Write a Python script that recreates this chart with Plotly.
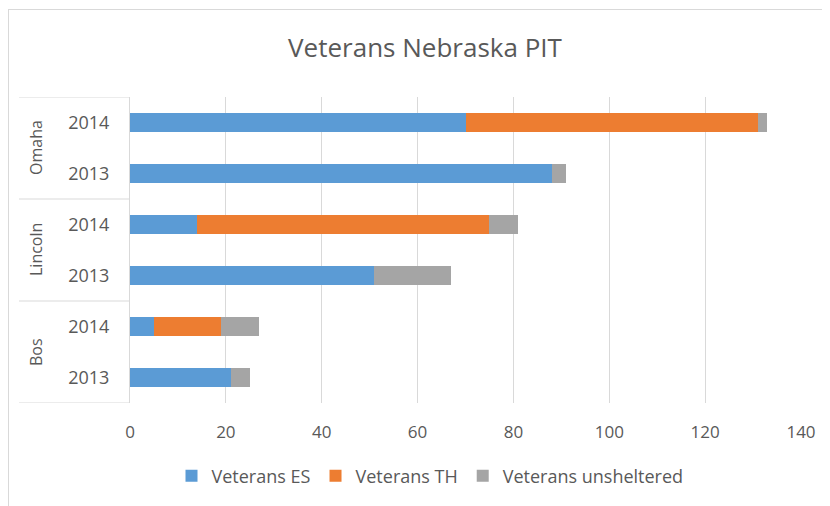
import plotly.graph_objects as go

# Data (bottom to top order for the category axis)
groups = ["Bos", "Bos", "Lincoln", "Lincoln", "Omaha", "Omaha"]
years = ["2013", "2014", "2013", "2014", "2013", "2014"]
veterans_es = [21, 5, 51, 14, 88, 70]
veterans_th = [0, 14, 0, 61, 0, 61]
veterans_unsheltered = [4, 8, 16, 6, 3, 2]
group_names = ["Bos", "Lincoln", "Omaha"]
x_ticks = [0, 20, 40, 60, 80, 100, 120, 140]

cats = [f"{g} {y}" for g, y in zip(groups, years)]

FONT = "'Open Sans', Lato, sans-serif"
TXT = "#595959"

fig = go.Figure()
for name, vals, col in [
    ("Veterans ES", veterans_es, "#5B9BD5"),
    ("Veterans TH", veterans_th, "#ED7D31"),
    ("Veterans unsheltered", veterans_unsheltered, "#A5A5A5"),
]:
    fig.add_trace(go.Bar(y=cats, x=vals, name=name, orientation="h",
                         marker=dict(color=col, line=dict(width=0))))

# page has an 8px body margin; work in page pixel coordinates
O = 8
PW, PH = 830, 506
W, H = PW - O, PH - O
plot_left, plot_right, plot_top, plot_bottom = 130, 801, 97, 403
L = plot_left - O
T = plot_top - O
R = W - (plot_right - O)
B = H - (plot_bottom - O)
pw, ph = plot_right - plot_left, plot_bottom - plot_top

def px_x(p):
    return (p - plot_left) / pw

def px_y(p):
    return (plot_bottom - p) / ph

shapes = []
for yv in [-0.5, 1.5, 3.5, 5.5]:
    shapes.append(dict(type="line", xref="paper", yref="y", x0=px_x(19), x1=px_x(129),
                       y0=yv, y1=yv, line=dict(color="#D9D9D9", width=1)))
# chart border (top and left)
shapes.append(dict(type="line", xref="paper", yref="paper", x0=px_x(8), x1=px_x(830),
                   y0=px_y(9.5), y1=px_y(9.5), line=dict(color="#D9D9D9", width=1)))
shapes.append(dict(type="line", xref="paper", yref="paper", x0=px_x(8.5), x1=px_x(8.5),
                   y0=px_y(9), y1=px_y(506), line=dict(color="#D9D9D9", width=1)))

annotations = []
for i, g in enumerate(group_names):
    annotations.append(dict(text=g, xref="paper", yref="y", x=px_x(36), y=2 * i + 0.5,
                            xanchor="center", yanchor="middle",
                            textangle=-90, showarrow=False,
                            font=dict(family=FONT, size=16, color=TXT)))

fig.update_layout(
    width=W, height=H,
    barmode="stack",
    bargap=0.61,
    plot_bgcolor="white", paper_bgcolor="white",
    margin=dict(l=L, r=R, t=T, b=B),
    title=dict(text="Veterans Nebraska PIT", x=(425 - O) / W, xref="container", xanchor="center",
               y=1 - (48 - O) / H, yref="container", yanchor="middle",
               font=dict(family=FONT, size=26, color=TXT)),
    xaxis=dict(range=[0, 140], tickvals=x_ticks, showgrid=True, gridcolor="#D9D9D9",
               gridwidth=1, zeroline=False, showline=False,
               tickfont=dict(family=FONT, size=17, color=TXT), ticks="",
               ticklabelstandoff=17),
    yaxis=dict(type="category", categoryorder="array", categoryarray=cats,
               tickvals=cats, ticktext=years, range=[-0.5, 5.5],
               showline=True, linecolor="#D9D9D9", linewidth=1, showgrid=False,
               ticks="", ticklabelstandoff=16,
               tickfont=dict(family=FONT, size=18, color=TXT)),
    legend=dict(orientation="h", x=px_x(430), xanchor="center", y=px_y(476),
                yanchor="middle", font=dict(family=FONT, size=18, color=TXT),
                traceorder="normal", itemwidth=30, bgcolor="rgba(0,0,0,0)"),
    shapes=shapes,
    annotations=annotations,
    showlegend=True,
)

fig.write_html("out.html")
